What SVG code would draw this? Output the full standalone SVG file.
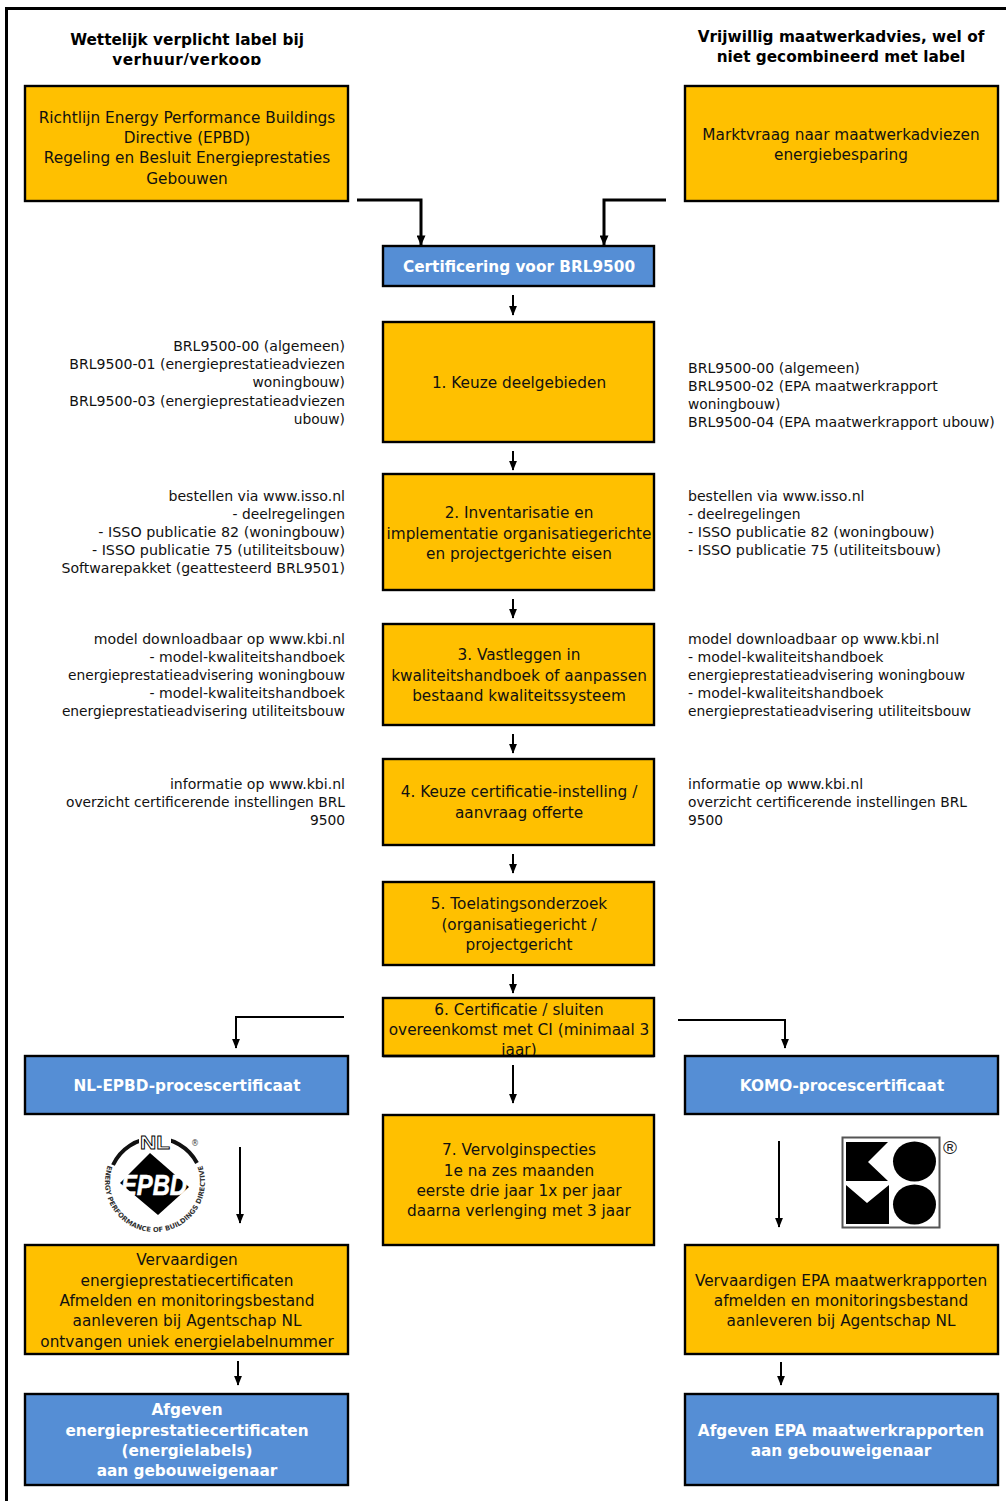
<svg xmlns="http://www.w3.org/2000/svg" width="1006" height="1501" viewBox="0 0 1006 1501">
<style>
text{font-family:"DejaVu Sans",Verdana,sans-serif;font-size:13.8px;fill:#111}
.m{font-size:14.1px}
.c{text-anchor:middle;font-size:15.3px}
.r{text-anchor:end}
.h{text-anchor:middle;font-weight:bold;font-size:15.3px;fill:#000}
.w{text-anchor:middle;font-weight:bold;font-size:15.3px;fill:#fff}
.o{fill:#ffc000;stroke:#000;stroke-width:2.4}
.b{fill:#558ed5;stroke:#000;stroke-width:2.4}
.l{fill:none;stroke:#000;stroke-width:2}
.t{fill:none;stroke:#000;stroke-width:3}
</style>
<defs>
<marker id="a" markerWidth="5" markerHeight="4" refX="4.6" refY="2" orient="auto"><path d="M0 0L5 2L0 4Z" fill="#000"/></marker>
<marker id="a2" markerWidth="3.4" markerHeight="3" refX="3.2" refY="1.5" orient="auto"><path d="M0 0L3.4 1.5L0 3Z" fill="#000"/></marker>
<clipPath id="c1"><rect x="0" y="0" width="500" height="65"/></clipPath>
<clipPath id="c6"><rect x="383" y="998" width="271" height="58"/></clipPath>
</defs>
<rect width="1006" height="1501" fill="#fff"/>
<path d="M6.500 1501V8.500H1006" fill="none" stroke="#000" stroke-width="3"/>
<g id="headers">
<g clip-path="url(#c1)"><text class="h" x="187" y="45">Wettelijk verplicht label bij</text><text class="h" x="187" y="65" letter-spacing=".4">verhuur/verkoop</text></g>
<text class="h" x="841" y="42">Vrijwillig maatwerkadvies, wel of</text><text class="h" x="841" y="62">niet gecombineerd met label</text>
</g>
<g id="connectors">
<path class="t" marker-end="url(#a2)" d="M357 200H421V245"/>
<path class="t" marker-end="url(#a2)" d="M666 200H604V245"/>
<path class="l" marker-end="url(#a)" d="M513 295V315"/>
<path class="l" marker-end="url(#a)" d="M513 451V470"/>
<path class="l" marker-end="url(#a)" d="M513 599V618"/>
<path class="l" marker-end="url(#a)" d="M513 734V753"/>
<path class="l" marker-end="url(#a)" d="M513 854V873"/>
<path class="l" marker-end="url(#a)" d="M513 974V993"/>
<path class="l" marker-end="url(#a)" d="M513 1065V1103"/>
<path class="l" marker-end="url(#a)" d="M344 1017H236V1048"/>
<path class="l" marker-end="url(#a)" d="M678 1020H785V1048"/>
<path class="l" marker-end="url(#a)" d="M240 1147V1223"/>
<path class="l" marker-end="url(#a)" d="M779 1141V1227"/>
<path class="l" marker-end="url(#a)" d="M238 1361V1385"/>
<path class="l" marker-end="url(#a)" d="M781 1362V1385"/>
</g>
<g id="n0"><rect class="o" x="25" y="86" width="323" height="115"/><text class="c" x="187" y="123">Richtlijn Energy Performance Buildings</text><text class="c" x="187" y="143">Directive (EPBD)</text><text class="c" x="187" y="163">Regeling en Besluit Energieprestaties</text><text class="c" x="187" y="184">Gebouwen</text></g>
<g id="n1"><rect class="o" x="685" y="86" width="313" height="115"/><text class="c" x="841" y="140">Marktvraag naar maatwerkadviezen</text><text class="c" x="841" y="160">energiebesparing</text></g>
<g id="cert"><rect class="b" x="383" y="246" width="271" height="40"/><text class="w" x="519" y="272">Certificering voor BRL9500</text></g>
<g id="s1"><rect class="o" x="383" y="322" width="271" height="120"/><text class="c" x="519" y="388">1. Keuze deelgebieden</text></g>
<g id="s2"><rect class="o" x="383" y="474" width="271" height="116"/><text class="c" x="519" y="518">2. Inventarisatie en</text><text class="c" x="519" y="539">implementatie organisatiegerichte</text><text class="c" x="519" y="559">en projectgerichte eisen</text></g>
<g id="s3"><rect class="o" x="383" y="624" width="271" height="101"/><text class="c" x="519" y="660">3. Vastleggen in</text><text class="c" x="519" y="681">kwaliteitshandboek of aanpassen</text><text class="c" x="519" y="701">bestaand kwaliteitssysteem</text></g>
<g id="s4"><rect class="o" x="383" y="759" width="271" height="86"/><text class="c" x="519" y="797">4. Keuze certificatie-instelling /</text><text class="c" x="519" y="818">aanvraag offerte</text></g>
<g id="s5"><rect class="o" x="383" y="882" width="271" height="83"/><text class="c" x="519" y="909">5. Toelatingsonderzoek</text><text class="c" x="519" y="930">(organisatiegericht /</text><text class="c" x="519" y="950">projectgericht</text></g>
<g id="s6"><rect class="o" x="383" y="998" width="271" height="58"/><g clip-path="url(#c6)"><text class="c" x="519" y="1015">6. Certificatie / sluiten</text><text class="c" x="519" y="1035">overeenkomst met CI (minimaal 3</text><text class="c" x="519" y="1055">jaar)</text></g><path d="M383 1056H654" stroke="#000" stroke-width="2.400"/></g>
<g id="s7"><rect class="o" x="383" y="1115" width="271" height="130"/><text class="c" x="519" y="1155">7. Vervolginspecties</text><text class="c" x="519" y="1176">1e na zes maanden</text><text class="c" x="519" y="1196">eerste drie jaar 1x per jaar</text><text class="c" x="519" y="1216">daarna verlenging met 3 jaar</text></g>
<g id="nl"><rect class="b" x="25" y="1056" width="323" height="58"/><text class="w" x="187" y="1091">NL-EPBD-procescertificaat</text></g>
<g id="komo"><rect class="b" x="685" y="1056" width="313" height="58"/><text class="w" x="842" y="1091">KOMO-procescertificaat</text></g>
<g id="vl"><rect class="o" x="25" y="1245" width="323" height="109"/><text class="c" x="187" y="1265">Vervaardigen</text><text class="c" x="187" y="1286">energieprestatiecertificaten</text><text class="c" x="187" y="1306">Afmelden en monitoringsbestand</text><text class="c" x="187" y="1326">aanleveren bij Agentschap NL</text><text class="c" x="187" y="1347">ontvangen uniek energielabelnummer</text></g>
<g id="vr"><rect class="o" x="685" y="1245" width="313" height="109"/><text class="c" x="841" y="1286">Vervaardigen EPA maatwerkrapporten</text><text class="c" x="841" y="1306">afmelden en monitoringsbestand</text><text class="c" x="841" y="1326">aanleveren bij Agentschap NL</text></g>
<g id="al"><rect class="b" x="25" y="1394" width="323" height="91"/><text class="w" x="187" y="1415">Afgeven</text><text class="w" x="187" y="1436">energieprestatiecertificaten</text><text class="w" x="187" y="1456">(energielabels)</text><text class="w" x="187" y="1476">aan gebouweigenaar</text></g>
<g id="ar"><rect class="b" x="685" y="1394" width="313" height="91"/><text class="w" x="841" y="1436">Afgeven EPA maatwerkrapporten</text><text class="w" x="841" y="1456">aan gebouweigenaar</text></g>
<g id="notes-left">
<text class="r m" x="345" y="351">BRL9500-00 (algemeen)</text><text class="r m" x="345" y="369">BRL9500-01 (energieprestatieadviezen</text><text class="r" x="345" y="387">woningbouw)</text><text class="r m" x="345" y="406">BRL9500-03 (energieprestatieadviezen</text><text class="r" x="345" y="424">ubouw)</text>
<text class="r m" x="345" y="501">bestellen via www.isso.nl</text><text class="r" x="345" y="519">- deelregelingen</text><text class="r m" x="345" y="537" style="font-size:14.3px">- ISSO publicatie 82 (woningbouw)</text><text class="r" x="345" y="555" style="font-size:14.3px">- ISSO publicatie 75 (utiliteitsbouw)</text><text class="r m" x="345" y="573">Softwarepakket (geattesteerd BRL9501)</text>
<text class="r m" x="345" y="644">model downloadbaar op www.kbi.nl</text><text class="r m" x="345" y="662">- model-kwaliteitshandboek</text><text class="r" x="345" y="680">energieprestatieadvisering woningbouw</text><text class="r m" x="345" y="698">- model-kwaliteitshandboek</text><text class="r" x="345" y="716">energieprestatieadvisering utiliteitsbouw</text>
<text class="r m" x="345" y="789">informatie op www.kbi.nl</text><text class="r" x="345" y="807">overzicht certificerende instellingen BRL</text><text class="r" x="345" y="825">9500</text>
</g>
<g id="notes-right">
<text class="m" x="688" y="373">BRL9500-00 (algemeen)</text><text class="m" x="688" y="391">BRL9500-02 (EPA maatwerkrapport</text><text x="688" y="409">woningbouw)</text><text class="m" x="688" y="427">BRL9500-04 (EPA maatwerkrapport ubouw)</text>
<text class="m" x="688" y="501">bestellen via www.isso.nl</text><text x="688" y="519">- deelregelingen</text><text x="688" y="537" style="font-size:14.3px">- ISSO publicatie 82 (woningbouw)</text><text x="688" y="555" style="font-size:14.3px">- ISSO publicatie 75 (utiliteitsbouw)</text>
<text class="m" x="688" y="644">model downloadbaar op www.kbi.nl</text><text class="m" x="688" y="662">- model-kwaliteitshandboek</text><text x="688" y="680">energieprestatieadvisering woningbouw</text><text class="m" x="688" y="698">- model-kwaliteitshandboek</text><text x="688" y="716">energieprestatieadvisering utiliteitsbouw</text>
<text class="m" x="688" y="789">informatie op www.kbi.nl</text><text x="688" y="807">overzicht certificerende instellingen BRL</text><text x="688" y="825">9500</text>
</g>
<g id="logo-epbd">
<path d="M113 1165A47 47 0 0 1 197 1163" fill="none" stroke="#111" stroke-width="4"/>
<path d="M150 1153L189 1187L158 1215L120 1183Z" fill="#000"/>
<rect x="139" y="1132" width="32" height="18" fill="#fff"/>
<text x="155" y="1149" text-anchor="middle" textLength="30" lengthAdjust="spacingAndGlyphs" style="font-size:19px;font-weight:bold;fill:#fff;stroke:#000;stroke-width:.8;font-family:'Liberation Sans',sans-serif">NL</text>
<text x="121" y="1195" textLength="66" lengthAdjust="spacingAndGlyphs" style="font-size:29px;font-weight:bold;font-style:italic;fill:#fff;stroke:#fff;stroke-width:.6;font-family:'Liberation Sans',sans-serif">EPBD</text>
<text x="195" y="1146" text-anchor="middle" style="font-size:8px;fill:#444">®</text>
<path d="M108 1165A50 50 0 1 0 202 1165" id="arcp" fill="none"/>
<text style="font-size:6.800px;font-weight:bold;fill:#333"><textPath href="#arcp" startOffset="50%" text-anchor="middle">ENERGY PERFORMANCE OF BUILDINGS DIRECTIVE</textPath></text>
</g>
<g id="logo-komo">
<rect x="842.500" y="1137.500" width="97" height="90" fill="#fff" stroke="#555" stroke-width="2"/>
<path d="M846 1142H888L868 1162L888 1181H846Z" fill="#000"/>
<ellipse cx="914.500" cy="1161.500" rx="21.500" ry="20" fill="#000"/>
<path d="M846 1185L867 1203L889 1185V1224H846Z" fill="#000"/>
<ellipse cx="914.500" cy="1204.500" rx="21.500" ry="20" fill="#000"/>
<text x="950" y="1154" text-anchor="middle" style="font-size:19px;fill:#222;font-family:'Liberation Sans',sans-serif">®</text>
</g>
</svg>
